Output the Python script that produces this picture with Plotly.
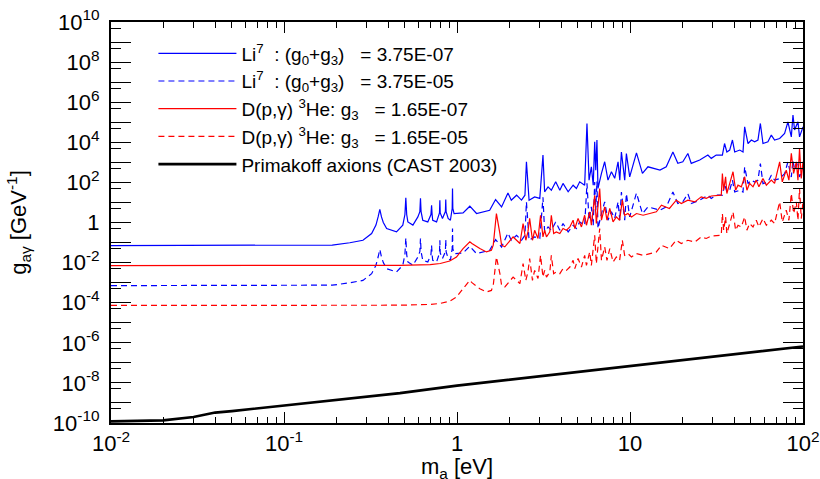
import plotly.graph_objects as go

# ---------------- data ----------------
li7_mass = [0.01, 0.1, 0.19, 0.24, 0.286, 0.321, 0.34, 0.35, 0.358, 0.366, 0.375, 0.392, 0.447, 0.486, 0.5, 0.506,
            0.512, 0.52, 0.556, 0.594, 0.61, 0.615, 0.62, 0.634, 0.678, 0.707, 0.713, 0.718, 0.724, 0.762, 0.792,
            0.796, 0.80, 0.824, 0.857, 0.861, 0.865, 0.889, 0.916, 0.938, 0.942, 0.946, 0.962, 1.084, 1.186, 1.297,
            1.545, 1.671, 1.81, 1.97, 2.06, 2.21, 2.36, 2.47, 2.52, 2.61, 2.81, 3.01, 3.14, 3.21, 3.36, 3.51, 3.72,
            3.93, 4.10, 4.39, 4.69, 4.90, 5.12, 5.47, 5.64, 5.80, 5.98, 6.13, 6.25, 6.34, 6.44, 6.53, 6.84, 7.14,
            7.46, 7.81, 8.16, 8.53, 8.73, 8.92, 9.32, 9.53, 9.96, 10.9, 11.8, 12.7, 14.9, 16.2, 17.7, 18.9, 20.2,
            21.6, 22.6, 25.3, 28.2, 29.5, 31.5, 34.2, 35.2, 36.3, 37.7, 39.1, 40.3, 43.1, 45.0, 46.0, 48.1, 50.3,
            52.5, 54.9, 56.7, 58.7, 62.7, 65.6, 68.5, 73.3, 78.3, 81.8, 85.6, 87.5, 89.4, 93.5, 95.5, 100]

# Li7 : (g0+g3) = 3.75E-07
li7_g_small = [0.071, 0.071, 0.075, 0.098, 0.13, 0.28, 0.74, 1.9, 4.5, 1.9, 1.0, 0.5, 0.34, 0.74, 2.5, 17,
               2.5, 1.07, 0.74, 1.9, 3.5, 16, 3.5, 1.3, 1.07, 2.5, 7.2, 2.5, 1.3, 1.07, 3.0,
               13, 3.0, 1.6, 3.5, 14, 3.5, 1.6, 1.3, 5.0, 50, 5.0, 2.8, 3.0, 6.5, 2.8,
               4.1, 14, 6.0, 30, 13, 23, 13, 23, 1070, 13, 19, 16, 2300, 34, 60, 41, 107,
               41, 89, 34, 72, 50, 107, 72, 87000, 130, 600, 72, 10500, 410, 13000, 50, 280, 1070,
               130, 340, 160, 1070, 130, 3300, 130, 2750, 190, 2950, 280, 600, 410, 600, 3300, 890, 1070,
               2750, 890, 1300, 2300, 1580, 2300, 2300, 8700, 3300, 4100, 13000, 3300, 4100, 3300, 59000, 8700, 13000,
               10500, 13000, 87000, 8700, 10500, 23000, 13000, 15500, 27500, 105000, 18600, 230000, 41000, 105000, 18600, 59000]

# Li7 : (g0+g3) = 3.75E-05
li7_g_large = [7.1e-4, 7.1e-4, 7.5e-4, 9.8e-4, 1.3e-3, 2.8e-3, 7.4e-3, 1.9e-2, 4.5e-2, 1.9e-2, 1.0e-2, 5.0e-3, 3.4e-3, 7.4e-3, 2.5e-2, 0.17,
               2.5e-2, 1.07e-2, 7.4e-3, 1.9e-2, 3.5e-2, 0.16, 3.5e-2, 1.3e-2, 1.07e-2, 2.5e-2, 7.2e-2, 2.5e-2, 1.3e-2, 1.07e-2, 3.0e-2,
               0.13, 3.0e-2, 1.6e-2, 3.5e-2, 0.14, 3.5e-2, 1.6e-2, 1.3e-2, 5.0e-2, 0.5, 5.0e-2, 2.8e-2, 3.0e-2, 6.5e-2, 2.8e-2,
               4.1e-2, 0.14, 6.0e-2, 0.30, 0.13, 0.23, 0.13, 0.23, 10.7, 0.13, 0.19, 0.16, 18, 0.34, 0.60, 0.41, 1.07,
               0.41, 0.89, 0.34, 0.72, 0.50, 1.07, 0.72, 90, 1.3, 6.0, 0.72, 105, 4.1, 110, 0.50, 2.8, 10.7,
               1.3, 3.4, 1.6, 10.7, 1.3, 33, 1.3, 27.5, 1.9, 29.5, 2.8, 6.0, 4.1, 6.0, 33, 8.9, 10.7,
               27.5, 8.9, 13, 23, 15.8, 23, 23, 87, 33, 41, 130, 33, 41, 33, 590, 87, 130,
               105, 130, 870, 87, 105, 230, 130, 155, 275, 1050, 186, 1300, 410, 1050, 186, 590]

dpg_mass = [0.01, 0.1, 0.468, 0.7, 0.8, 0.908, 0.993, 1.084, 1.154, 1.186, 1.22, 1.297, 1.355, 1.48, 1.58, 1.62,
            1.69, 1.77, 1.81, 1.89, 2.02, 2.11, 2.21, 2.31, 2.41, 2.50, 2.57, 2.63, 2.73, 2.81, 2.94, 3.04, 3.14,
            3.21, 3.29, 3.44, 3.51, 3.62, 3.75, 3.93, 4.10, 4.29, 4.49, 4.69, 4.80, 5.01, 5.24, 5.47, 5.60, 5.85,
            5.98, 6.25, 6.39, 6.68, 6.84, 7.14, 7.36, 7.64, 7.98, 8.34, 8.71, 9.03, 9.31, 9.73, 10.2, 10.9, 11.9,
            13.0, 14.2, 15.2, 16.9, 18.5, 19.8, 21.6, 23.7, 25.8, 27.6, 29.5, 33.7, 34.2, 34.8, 35.7, 36.3, 37.7,
            39.4, 40.8, 42.1, 44.0, 46.0, 47.4, 49.1, 51.4, 53.7, 55.6, 58.7, 61.4, 65.6, 68.5, 73.3, 75.9, 80.0,
            82.9, 85.6, 88.3, 91.5, 93.5, 95.5, 97.7, 100]

# D(p,gamma)3He : g3 = 1.65E-07
dpg_g_small = [7.1e-3, 7.1e-3, 7.3e-3, 8.0e-3, 9.0e-3, 1.2e-2, 1.9e-2, 5.0e-2, 9.0e-2, 0.11, 0.09, 0.061, 0.05, 0.034, 0.041, 0.074,
               2.8, 0.28, 0.074, 0.061, 0.13, 0.19, 0.13, 0.09, 0.89, 0.13, 0.34, 1.6, 0.13, 0.41, 0.16, 2.3, 0.19,
               0.41, 0.19, 0.34, 2.3, 0.28, 0.34, 0.28, 0.50, 0.41, 0.60, 1.3, 0.50, 1.6, 0.60, 2.3, 0.73, 3.4,
               0.73, 23, 0.89, 50, 1.3, 6.0, 1.3, 5.0, 1.07, 1.9, 1.3, 13, 2.3, 2.8, 1.9, 2.8, 2.3,
               2.8, 3.4, 7.3, 5.0, 13, 8.9, 13, 10.7, 19, 16, 21, 23, 280, 41, 190, 28, 89,
               340, 41, 73, 60, 190, 41, 89, 60, 130, 60, 157, 73, 130, 89, 1060, 106, 410,
               130, 2800, 280, 1060, 130, 5000, 157, 1060]

# D(p,gamma)3He : g3 = 1.65E-05
dpg_g_large = [7.3e-5, 7.3e-5, 7.5e-5, 8.2e-5, 9.2e-5, 1.2e-4, 1.9e-4, 5.0e-4, 1.0e-3, 1.3e-3, 1.0e-3, 7.0e-4, 5.0e-4, 3.4e-4, 4.1e-4, 7.4e-4,
               1.9e-2, 2.8e-3, 7.4e-4, 6.1e-4, 1.3e-3, 1.9e-3, 1.3e-3, 9.0e-4, 8.9e-3, 1.3e-3, 3.4e-3, 1.6e-2, 1.3e-3, 4.1e-3, 1.6e-3, 2.3e-2, 1.9e-3,
               4.1e-3, 1.9e-3, 3.4e-3, 2.3e-2, 2.8e-3, 3.4e-3, 2.8e-3, 5.0e-3, 4.1e-3, 6.0e-3, 1.3e-2, 5.0e-3, 1.6e-2, 6.0e-3, 2.3e-2, 7.3e-3, 3.4e-2,
               7.3e-3, 0.23, 8.9e-3, 0.50, 1.3e-2, 6.0e-2, 1.3e-2, 5.0e-2, 1.07e-2, 1.9e-2, 1.3e-2, 0.13, 2.3e-2, 2.8e-2, 1.9e-2, 2.8e-2, 2.3e-2,
               2.8e-2, 3.4e-2, 7.3e-2, 5.0e-2, 0.13, 8.9e-2, 0.13, 0.107, 0.19, 0.16, 0.21, 0.23, 2.8, 0.41, 1.9, 0.28, 0.89,
               3.4, 0.41, 0.73, 0.60, 1.9, 0.41, 0.89, 0.60, 1.3, 0.60, 1.57, 0.73, 1.3, 0.89, 10.6, 1.06, 4.1,
               1.3, 28, 2.8, 10.6, 1.3, 50, 1.57, 10.6]

# Primakoff axions (CAST 2003)
cast_mass = [0.01, 0.015, 0.02, 0.03, 0.04, 0.05, 0.1, 0.468, 1, 10, 100]
cast_g = [1.2e-10, 1.25e-10, 1.35e-10, 2.0e-10, 3.3e-10, 3.9e-10, 7.6e-10, 3.1e-9, 7.3e-9, 7.0e-8, 6.6e-7]

x_tickvals = [0.01, 0.1, 1, 10, 100]
x_ticktext = ["10<sup>-2</sup>", "10<sup>-1</sup>", "1", "10", "10<sup>2</sup>"]
y_exponents = list(range(-10, 11))

# ---------------- figure ----------------
FONT = "Liberation Sans, Arial, Helvetica, sans-serif"
fig = go.Figure()

fig.add_trace(go.Scatter(x=li7_mass, y=li7_g_small, mode="lines",
                         line=dict(color="#0000ff", width=1.2),
                         name="Li<sup>7</sup>  : (g<sub>0</sub>+g<sub>3</sub>)   = 3.75E-07"))
fig.add_trace(go.Scatter(x=li7_mass, y=li7_g_large, mode="lines",
                         line=dict(color="#0000ff", width=1.2, dash="6px,4px"),
                         name="Li<sup>7</sup>  : (g<sub>0</sub>+g<sub>3</sub>)   = 3.75E-05"))
fig.add_trace(go.Scatter(x=dpg_mass, y=dpg_g_small, mode="lines",
                         line=dict(color="#ff0000", width=1.2),
                         name="D(p,γ) <sup>3</sup>He: g<sub>3</sub>   = 1.65E-07"))
fig.add_trace(go.Scatter(x=dpg_mass, y=dpg_g_large, mode="lines",
                         line=dict(color="#ff0000", width=1.2, dash="6px,4px"),
                         name="D(p,γ) <sup>3</sup>He: g<sub>3</sub>   = 1.65E-05"))
fig.add_trace(go.Scatter(x=cast_mass, y=cast_g, mode="lines",
                         line=dict(color="#000000", width=2.6),
                         name="Primakoff axions (CAST 2003)"))

y_tickvals = [10.0 ** n for n in y_exponents]
y_ticktext = [("1" if n == 0 else "10<sup>%d</sup>" % n) if n % 2 == 0 else "" for n in y_exponents]
y_minor = [5 * 10.0 ** n for n in range(-10, 10)]
x_minor = [k * 10.0 ** n for n in range(-2, 2) for k in range(2, 10)]

fig.update_xaxes(type="log", range=[-2, 2],
                 tickmode="array", tickvals=x_tickvals, ticktext=x_ticktext,
                 ticks="inside", ticklen=11, tickwidth=1, tickcolor="black",
                 minor=dict(tickmode="array", tickvals=x_minor, ticks="inside", ticklen=6, tickcolor="black"),
                 showline=True, linecolor="black", linewidth=2, mirror="ticks",
                 showgrid=False, zeroline=False,
                 tickfont=dict(family=FONT, size=22, color="black"),
                 ticklabelstandoff=0)
fig.update_yaxes(type="log", range=[-10, 10],
                 tickmode="array", tickvals=y_tickvals, ticktext=y_ticktext,
                 ticks="inside", ticklen=20, tickwidth=1, tickcolor="black",
                 minor=dict(tickmode="array", tickvals=y_minor, ticks="inside", ticklen=10, tickcolor="black"),
                 showline=True, linecolor="black", linewidth=2, mirror="ticks",
                 showgrid=False, zeroline=False,
                 tickfont=dict(family=FONT, size=22, color="black"),
                 ticklabelstandoff=5,
                 title=dict(text="g<sub>aγ</sub> [GeV<sup>-1</sup>]", font=dict(family=FONT, size=22, color="black"), standoff=20))

# x-axis title placed just below the tick labels (it touches the bottom edge, as in the original)
fig.add_annotation(text="m<sub>a</sub> [eV]", xref="paper", yref="paper", x=0.5, y=0,
                   xanchor="center", yanchor="top", yshift=-30, showarrow=False,
                   font=dict(family=FONT, size=22, color="black"), borderpad=0)

fig.update_layout(
    width=820, height=479,
    margin=dict(l=111, r=17, t=22, b=56, autoexpand=False),
    paper_bgcolor="white", plot_bgcolor="white",
    font=dict(family=FONT, color="black"),
    legend=dict(x=0.0613, y=0.969, xanchor="left", yanchor="top",
                bgcolor="rgba(0,0,0,0)", borderwidth=0,
                font=dict(family=FONT, size=19, color="black"),
                itemwidth=78, tracegroupgap=0),
    showlegend=True,
)

fig.write_html("out.html", config={"displayModeBar": False},
               post_script="document.body.style.margin='0';document.body.style.overflow='hidden';")
